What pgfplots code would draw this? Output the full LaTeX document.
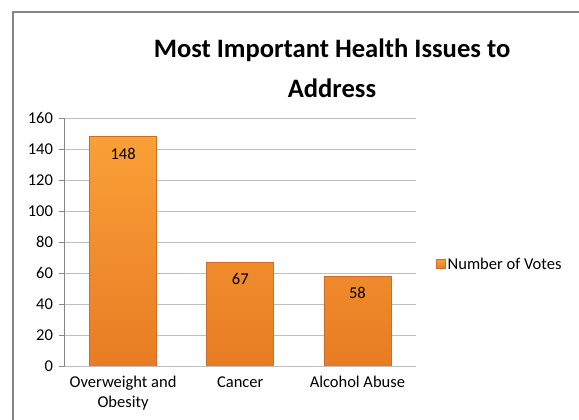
\documentclass[border=0pt]{standalone}
\usepackage{fontspec}
\setmainfont{Carlito}
\usepackage{pgfplots}
\pgfplotsset{compat=1.18}
\definecolor{barTop}{RGB}{250,160,55}
\definecolor{barBot}{RGB}{232,124,36}
\definecolor{barEdge}{RGB}{205,110,40}
\definecolor{gridc}{RGB}{190,190,190}
\definecolor{axisc}{RGB}{134,134,134}
\begin{document}
\begin{tikzpicture}[x=1pt,y=1pt]
\useasboundingbox (0,0) rectangle (579,420);
\fill[white] (0,0) rectangle (579,420);
\draw[axisc, line width=1.2pt] (13,0) -- (13,408) -- (579,408);
\node[font=\fontsize{26.6}{40}\selectfont\bfseries, align=center] at (332,352) {Most Important Health Issues to\\Address};
\begin{axis}[
  at={(64.5pt,54pt)}, anchor=south west,
  scale only axis, width=351.5pt, height=248pt,
  xmin=-0.5, xmax=2.5, ymin=0, ymax=160,
  ytick={0,20,...,160},
  xtick={0,1,2},
  xticklabels={{Overweight and\\Obesity},{Cancer},{Alcohol Abuse}},
  xticklabel style={align=center, font=\fontsize{16.5}{20}\selectfont, yshift=-2pt},
  yticklabel style={font=\fontsize{16.5}{20}\selectfont, xshift=-3pt},
  /pgf/number format/assume math mode=true,
  ymajorgrids, grid style={gridc, line width=0.8pt},
  axis x line*=bottom, axis y line*=left,
  axis line style={axisc, line width=0.8pt, -},
  x axis line style={gridc},
  major x tick style={draw=none},
  y tick style={axisc, line width=0.8pt},
  tick align=outside, major tick length=5pt,
  ybar, bar width=67pt,
  nodes near coords,
  every node near coord/.append style={font=\fontsize{16.5}{20}\selectfont, anchor=center, yshift=-17pt},
  legend style={at={(1.057,0.411)}, anchor=west, draw=none, fill=none,
    font=\fontsize{16.5}{20}\selectfont, inner sep=0pt},
  legend image code/.code={\draw[barEdge, top color=barTop, bottom color=barBot, line width=0.5pt] (0pt,-4.5pt) rectangle (9pt,4.5pt);},
]
\addplot[draw=barEdge, line width=0.6pt, top color=barTop, bottom color=barBot] coordinates {(0,148) (1,67) (2,58)};
\addlegendentry{Number of Votes}
\end{axis}
\end{tikzpicture}
\end{document}
